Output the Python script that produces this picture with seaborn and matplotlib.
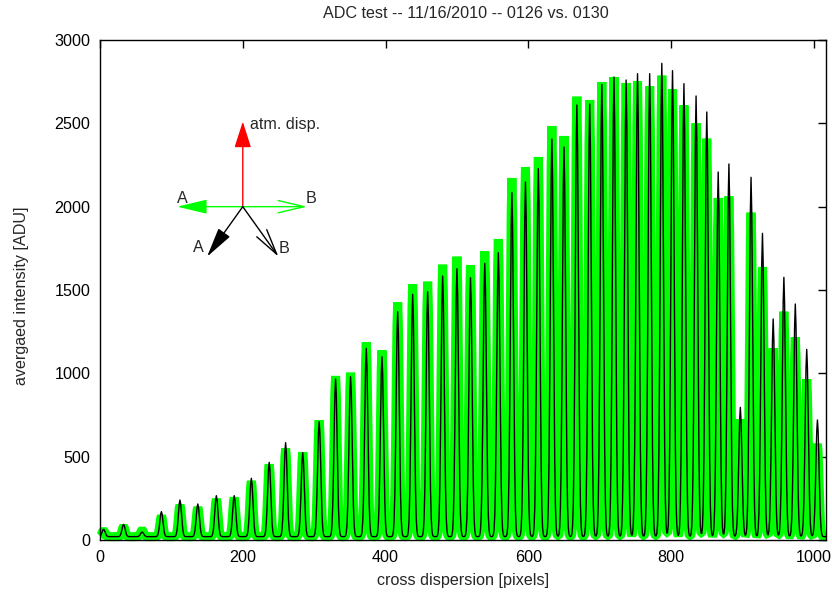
import numpy as np
import pandas as pd
import matplotlib
matplotlib.use("Agg")
import matplotlib.pyplot as plt
import seaborn as sns

# ---- data ----
# peak centres along cross dispersion [pixels]
peak_pos = [5, 33, 59, 86, 112, 137, 163, 188, 212, 237, 260, 284, 307, 330,
            351, 373, 395, 417, 438, 459, 480, 500, 519, 539, 558, 577, 596,
            614, 633, 650, 668, 686, 703, 720, 737, 753, 770, 787, 802, 818,
            835, 850, 866, 881, 897, 912, 928, 943, 958, 974, 990, 1005]
# black curve (0126) peak intensities [ADU]
black_peak = [64, 94, 48, 170, 240, 216, 266, 266, 370, 466, 584, 524, 710, 966,
              980, 1150, 1100, 1370, 1474, 1490, 1584, 1628, 1574, 1660, 1724,
              2084, 2148, 2228, 2406, 2358, 2610, 2616, 2734, 2778, 2760, 2798,
              2798, 2860, 2816, 2738, 2664, 2568, 2208, 2256, 796, 2176, 1840,
              1326, 1576, 1416, 1144, 720]
# green curve (0130) peak intensities [ADU]
green_peak = [56, 80, 60, 144, 210, 196, 246, 254, 354, 454, 550, 526, 718, 984,
              1004, 1186, 1138, 1426, 1534, 1550, 1652, 1700, 1648, 1732, 1806,
              2172, 2238, 2298, 2484, 2424, 2660, 2640, 2748, 2778, 2742, 2754,
              2722, 2786, 2704, 2608, 2500, 2408, 2052, 2062, 724, 1964, 1638,
              1150, 1370, 1216, 964, 578]
background = 20
x_ticks = [0, 200, 400, 600, 800, 1000]
y_ticks = [0, 500, 1000, 1500, 2000, 2500, 3000]

pixels = np.arange(0, 1018)


def profile(heights, sigma):
    y = np.full(pixels.shape, float(background))
    for c, h in zip(peak_pos, heights):
        y += (h - background) * np.exp(-0.5 * ((pixels - c) / sigma) ** 2)
    return y


df = pd.DataFrame({"pixel": pixels,
                   "black": profile(black_peak, 2.2),
                   "green": profile(green_peak, 2.2)})

sns.set_style("white")
plt.rcParams["font.family"] = ["Liberation Sans", "DejaVu Sans"]
FS = 11.6
plt.rcParams["font.size"] = FS

fig = plt.figure(figsize=(8.32, 5.96), dpi=100)
ax = fig.add_axes([100 / 832, 56 / 596, 726 / 832, 500 / 596])

sns.lineplot(data=df, x="pixel", y="green", ax=ax, color="#00ff00", lw=6.5,
             estimator=None, solid_joinstyle="bevel", solid_capstyle="butt",
             clip_on=False, zorder=2)
sns.lineplot(data=df, x="pixel", y="black", ax=ax, color="black", lw=1.0,
             estimator=None, zorder=3)

ax.set_xlim(0, 1017)
ax.set_ylim(0, 3000)
ax.set_xticks(x_ticks)
ax.set_yticks(y_ticks)
ax.tick_params(direction="in", length=6, width=1, top=True, right=True,
               labelsize=FS, pad=7, colors="black")
for s in ax.spines.values():
    s.set_visible(True)
    s.set_color("black")
    s.set_linewidth(1.0)
    s.set_zorder(4)

ax.set_xlabel("")
ax.set_ylabel("")
fig.text(463 / 832, 1 - 580 / 596, "cross dispersion [pixels]",
         ha="center", va="center", fontsize=FS)
fig.text(22 / 832, 1 - 296 / 596, "avergaed intensity [ADU]",
         ha="center", va="center", rotation=90, fontsize=FS)
fig.text(466 / 832, 1 - 13 / 596, "ADC test -- 11/16/2010 -- 0126 vs. 0130",
         ha="center", va="center", fontsize=FS)

# ---- direction diagram ----
centre = (200, 2000)


def arrow(tip, color, style):
    ax.annotate("", xy=tip, xytext=centre,
                arrowprops=dict(arrowstyle=style, color=color, lw=1.0,
                                shrinkA=0, shrinkB=0), zorder=5)


arrow((200, 2510), "red", "-|>,head_length=1.4,head_width=0.45")
arrow((108, 2000), "#00ff00", "-|>,head_length=1.6,head_width=0.38")
arrow((290, 2000), "#00ff00", "->,head_length=1.6,head_width=0.38")
arrow((150, 1700), "black", "-|>,head_length=1.6,head_width=0.38")
arrow((250, 1700), "black", "->,head_length=1.6,head_width=0.38")

ax.text(210, 2490, "atm. disp.", ha="left", va="center", fontsize=FS)
ax.text(108, 2050, "A", ha="left", va="center", fontsize=FS)
ax.text(288, 2050, "B", ha="left", va="center", fontsize=FS)
ax.text(130, 1755, "A", ha="left", va="center", fontsize=FS)
ax.text(250, 1750, "B", ha="left", va="center", fontsize=FS)

fig.savefig("out.png", dpi=100)
